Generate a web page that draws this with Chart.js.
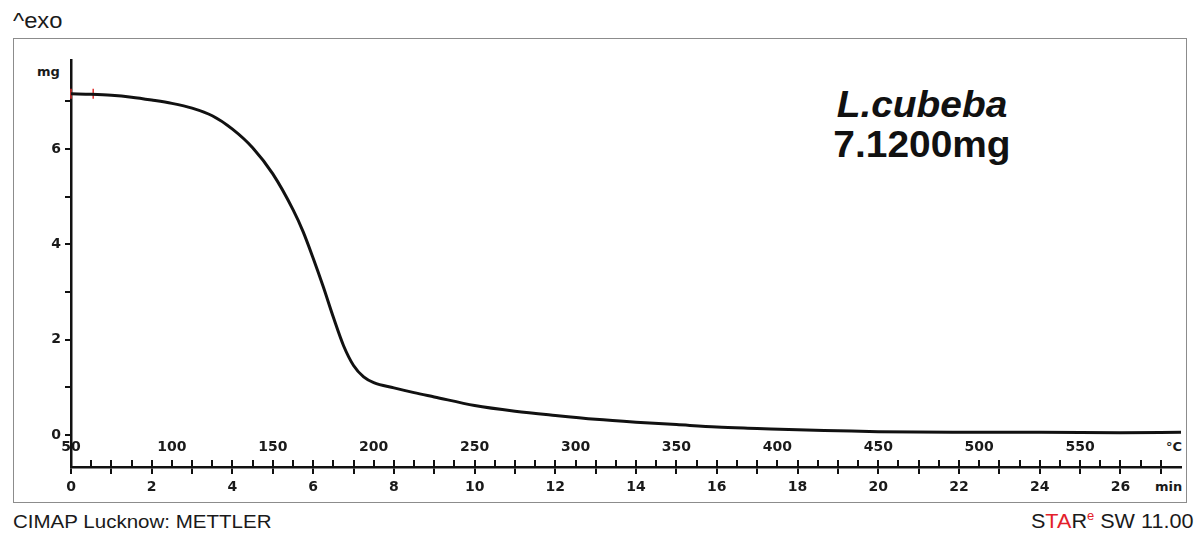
<!DOCTYPE html>
<html>
<head>
<meta charset="utf-8">
<script src="https://cdn.jsdelivr.net/npm/chart.js@4/dist/chart.umd.min.js"></script>
<style>
    body { margin: 0; background: #fff; width: 1200px; height: 539px; position: relative; overflow: hidden;
           font-family: "Liberation Sans", Arial, sans-serif; color: #1a1a1a; }
    #frame { position: absolute; left: 13px; top: 38px; width: 1172px; height: 463px; border: 1.5px solid #8c8c8c; }
    #wrap { position: absolute; left: 0; top: 0; width: 1200px; height: 539px; }
    .txt { position: absolute; white-space: nowrap; }
    .ax { font-family: "DejaVu Sans", sans-serif; font-weight: bold; font-size: 13px; color: #1a1a1a; }
</style>
</head>
<body>
<div id="frame"></div>
<div class="txt" style="left:13px; top:10px; font-size:22px; line-height:22px; transform:scaleX(1.08); transform-origin:left;">^exo</div>
<div class="txt ax" style="left:37px; top:64px;">mg</div>
<div class="txt ax" style="left:1166px; top:439px;">°C</div>
<div class="txt ax" style="left:1155px; top:479px;">min</div>
<div class="txt" style="left:822px; width:200px; text-align:center; top:87px; font-size:36px; line-height:36px; font-weight:bold; font-style:italic; color:#111; transform:scaleX(1.08);">L.cubeba</div>
<div class="txt" style="left:822px; width:200px; text-align:center; top:127px; font-size:36px; line-height:36px; font-weight:bold; color:#111; transform:scaleX(1.08);">7.1200mg</div>
<div class="txt" style="left:13px; top:512px; font-size:19px; line-height:19px; transform:scaleX(1.08); transform-origin:left;">CIMAP Lucknow: METTLER</div>
<div class="txt" style="right:7px; top:511px; font-size:20px; line-height:20px; transform:scaleX(1.08); transform-origin:right;">S<span style="color:#e3202a">TA</span>R<span style="color:#e3202a; font-size:12px; position:relative; top:-8px;">e</span> SW 11.00</div>
<div id="wrap"><canvas id="tgaChart" width="1200" height="539"></canvas></div>
<script>
// time axis (min) and sample mass (mg)
const timeMin = [0, 0.5, 1, 1.5, 2, 2.5, 3, 3.5, 4, 4.5, 5, 5.5, 5.75, 6, 6.25, 6.5, 6.75, 7, 7.25, 7.5,
                 8, 8.5, 9, 10, 11, 12, 13, 14, 15, 16, 17, 18, 19, 20, 22, 24, 26, 27.5];
const massMg = [7.16, 7.15, 7.13, 7.09, 7.03, 6.96, 6.86, 6.70, 6.42, 6.03, 5.48, 4.73, 4.27, 3.71, 3.11, 2.47, 1.88, 1.46, 1.22, 1.10,
                0.99, 0.89, 0.80, 0.62, 0.50, 0.41, 0.33, 0.27, 0.22, 0.17, 0.14, 0.11, 0.09, 0.07, 0.06, 0.06, 0.05, 0.06];

// red evaluation limit marks at the start of the curve
const markerMin = [0, 0.55];
const markerMg = [7.16, 7.16];

const minLabels = [0, 2, 4, 6, 8, 10, 12, 14, 16, 18, 20, 22, 24, 26];
const tempLabels = [50, 100, 150, 200, 250, 300, 350, 400, 450, 500, 550];
const massLabels = [0, 2, 4, 6];

const tickFont = { family: 'DejaVu Sans', weight: 'bold', size: 14 };

new Chart(document.getElementById('tgaChart'), {
    type: 'line',
    data: {
        datasets: [{
            data: timeMin.map((t, i) => ({ x: t, y: massMg[i] })),
            borderColor: '#111',
            borderWidth: 3,
            pointRadius: 0,
            cubicInterpolationMode: 'monotone',
        },
        {
            type: 'scatter',
            data: markerMin.map((t, i) => ({ x: t, y: markerMg[i] })),
            pointStyle: 'line',
            rotation: 90,
            radius: 5,
            borderColor: '#e0322f',
            borderWidth: 1.5,
            clip: false,
        }],
    },
    options: {
        responsive: false,
        animation: false,
        layout: { padding: { top: 60, left: 31, right: 19, bottom: 40 } },
        plugins: { legend: { display: false }, tooltip: { enabled: false } },
        scales: {
            x: {
                type: 'linear',
                position: 'bottom',
                min: 0,
                max: 27.5,
                afterFit: s => { s.height = 32; },
                border: { display: true, color: '#111', width: 2.5 },
                grid: { display: true, drawOnChartArea: false, drawTicks: true, tickLength: 7, color: '#111', lineWidth: 2 },
                ticks: {
                    stepSize: 1, includeBounds: false, autoSkip: false, maxRotation: 0,
                    padding: 5, color: '#1a1a1a', font: tickFont,
                    callback: v => minLabels.includes(v) ? String(v) : '',
                },
            },
            x2: {
                type: 'linear',
                position: { y: -0.67 },
                min: 50,
                max: 600,
                afterBuildTicks: s => { s.ticks = s.ticks.filter(t => t.value < 600); },
                border: { display: false },
                grid: { display: true, drawOnChartArea: false, drawTicks: true, tickLength: -7, color: '#111', lineWidth: 2 },
                ticks: {
                    stepSize: 10, includeBounds: false, autoSkip: false, maxRotation: 0,
                    padding: -21, color: '#1a1a1a', font: tickFont,
                    callback: v => tempLabels.includes(v) ? String(v) : '',
                },
            },
            y: {
                type: 'linear',
                position: 'left',
                min: -0.67,
                max: 7.87,
                afterFit: s => { s.width = 40; },
                border: { display: true, color: '#111', width: 2.5 },
                grid: { display: true, drawOnChartArea: false, drawTicks: true, tickLength: 6, color: '#111', lineWidth: 2 },
                ticks: {
                    stepSize: 1, includeBounds: false, padding: 4, color: '#1a1a1a', font: tickFont,
                    callback: v => massLabels.includes(v) ? String(v) : '',
                },
            },
        },
    },
});
</script>
</body>
</html>
